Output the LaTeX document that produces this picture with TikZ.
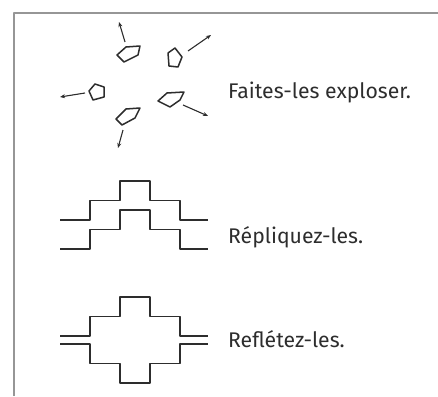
\documentclass[tikz,border=0pt]{standalone}
\usepackage{fontspec}
\setmainfont{Fira Sans}
\newfontfamily\capfont[Scale=2.12]{Fira Sans}
\usetikzlibrary{arrows.meta}
\definecolor{inkgray}{RGB}{45,45,45}
\definecolor{framegray}{RGB}{150,150,150}

\begin{document}
\begin{tikzpicture}[x=1pt,y=-1pt,>={Stealth[length=5pt,width=4pt]},
    line join=round,
    outline/.style={draw=inkgray,line width=1.5pt},
    shoot/.style={->,draw=inkgray,line width=1.1pt},
    legend/.style={anchor=base west,inner sep=0pt,text=inkgray},
    stairs/.pic={\draw[outline] (0,0) -- (30,0) -- (30,-19.5) -- (60,-19.5) -- (60,-39)
      -- (90,-39) -- (90,-19.5) -- (120,-19.5) -- (120,0) -- (148,0);}]
  \useasboundingbox (0,0) rectangle (438,396);
  % frame
  \draw[framegray,line width=1.2pt] (14,396) -- (14,13) -- (438,13);

  % exploding pentagons
  \draw[outline] (117,55) -- (126,47) -- (140,46) -- (138,55) -- (124,62) -- cycle;
  \draw[outline] (168,53) -- (175,48) -- (182,57) -- (178,67) -- (169,66) -- cycle;
  \draw[outline] (89,91) -- (95,84) -- (104,87) -- (104,97) -- (93,100) -- cycle;
  \draw[outline] (158,101) -- (167,93) -- (184,92) -- (180,100) -- (170,107) -- cycle;
  \draw[outline] (116,119) -- (126,109) -- (140,108) -- (135,118) -- (122,125) -- cycle;
  \coordinate (s1) at (125,42); \coordinate (e1) at (119,22);
  \coordinate (s2) at (188,51); \coordinate (e2) at (211,35);
  \coordinate (s3) at (85,93);  \coordinate (e3) at (60,97);
  \coordinate (s4) at (183,105); \coordinate (e4) at (208,116);
  \coordinate (s5) at (123,130); \coordinate (e5) at (118,148);
  \foreach \i in {1,...,5} \draw[shoot] (s\i) -- (e\i);
  \node[legend] (explode) at (228,98) {\capfont Faites-les exploser.};

  % replicated steps
  \pic at (60,220) {stairs};
  \pic at (60,249) {stairs};
  \node[legend] (replicate) at (228,243) {\capfont Répliquez-les.};

  % mirrored steps
  \pic at (60,336) {stairs};
  \pic[yscale=-1] at (60,344) {stairs};
  \node[legend] (reflect) at (228,347) {\capfont Reflétez-les.};
\end{tikzpicture}
\end{document}
